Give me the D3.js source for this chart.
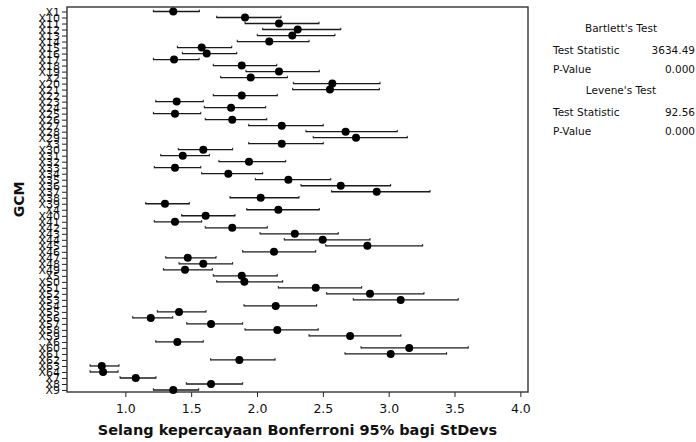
<!DOCTYPE html>
<html>
<head>
<meta charset="utf-8">
<script src="https://cdn.jsdelivr.net/npm/d3@7"></script>
<style>
  body { margin: 0; background: #fff; }
  svg { display: block; }
</style>
</head>
<body>
<div id="chart"></div>
<script>
const width = 696;
const height = 442;

// GCM categories, in the order they are listed on the axis (top to bottom)
const gcm = ["X1", "X10", "X11", "X12", "X13", "X14", "X15", "X16", "X17", "X18", "X19",
             "X2", "X20", "X21", "X22", "X23", "X24", "X25", "X26", "X27", "X28", "X29",
             "X3", "X30", "X31", "X32", "X33", "X34", "X35", "X36", "X37", "X38", "X39",
             "X4", "X40", "X41", "X42", "X43", "X44", "X45", "X46", "X47", "X48", "X49",
             "X5", "X50", "X51", "X52", "X53", "X54", "X55", "X56", "X57", "X58", "X59",
             "X6", "X60", "X61", "X62", "X63", "X64", "X7", "X8", "X9"];

// StDev estimate and Bonferroni 95% interval per GCM
const stdev = [1.364, 1.909, 2.167, 2.309, 2.268, 2.093, 1.580, 1.618, 1.370, 1.884, 2.167,
               1.952, 2.572, 2.554, 1.884, 1.390, 1.803, 1.377, 1.812, 2.188, 2.673, 2.752,
               2.188, 1.592, 1.436, 1.939, 1.377, 1.782, 2.238, 2.636, 2.909, 2.028, 1.301,
               2.162, 1.610, 1.377, 1.812, 2.287, 2.499, 2.838, 2.129, 1.474, 1.592, 1.453,
               1.884, 1.904, 2.446, 2.858, 3.091, 2.142, 1.408, 1.193, 1.651, 2.154, 2.707,
               1.395, 3.156, 3.015, 1.866, 0.821, 0.831, 1.079, 1.651, 1.364];
const lower = [1.213, 1.694, 1.909, 2.043, 2.002, 1.850, 1.395, 1.433, 1.213, 1.668, 1.916,
               1.724, 2.276, 2.271, 1.668, 1.231, 1.600, 1.213, 1.607, 1.937, 2.372, 2.427,
               1.937, 1.402, 1.269, 1.711, 1.220, 1.580, 1.987, 2.334, 2.567, 1.795, 1.155,
               1.922, 1.428, 1.220, 1.607, 2.023, 2.207, 2.522, 1.891, 1.307, 1.408, 1.289,
               1.668, 1.694, 2.162, 2.529, 2.731, 1.901, 1.243, 1.056, 1.466, 1.909, 2.395,
               1.231, 2.790, 2.668, 1.648, 0.732, 0.732, 0.960, 1.463, 1.213];
const upper = [1.562, 2.182, 2.471, 2.636, 2.592, 2.395, 1.808, 1.846, 1.560, 2.150, 2.473,
               2.230, 2.934, 2.929, 2.154, 1.592, 2.066, 1.573, 2.074, 2.503, 3.065, 3.141,
               2.503, 1.815, 1.638, 2.218, 1.573, 2.043, 2.560, 3.015, 3.314, 2.319, 1.486,
               2.473, 1.833, 1.580, 2.078, 2.617, 2.858, 3.258, 2.446, 1.689, 1.815, 1.661,
               2.154, 2.195, 2.795, 3.268, 3.528, 2.453, 1.613, 1.360, 1.891, 2.465, 3.093,
               1.592, 3.604, 3.440, 2.137, 0.952, 0.945, 1.233, 1.891, 1.557];

const xTicks = [1.0, 1.5, 2.0, 2.5, 3.0, 3.5, 4.0];

// Test results shown on the right
const bartlett = [["Test Statistic", "3634.49"], ["P-Value", "0.000"]];
const levene = [["Test Statistic", "92.56"], ["P-Value", "0.000"]];

const frame = { left: 67, right: 528, top: 7, bottom: 392 };

const data = gcm.map((g, i) => ({ gcm: g, sd: stdev[i], lo: lower[i], hi: upper[i] }));

const svg = d3.select("#chart").append("svg")
    .attr("width", width)
    .attr("height", height)
    .style("font-family", "'DejaVu Sans', sans-serif");

svg.append("rect")
    .attr("width", width)
    .attr("height", height)
    .attr("fill", "#fff");

const x = d3.scaleLinear()
    .domain([0.557, 4.058])
    .range([frame.left, frame.right]);

const y = d3.scalePoint()
    .domain(gcm)
    .range([11.5, 390]);

// X axis
const xAxis = svg.append("g")
    .attr("transform", `translate(0, ${frame.bottom})`)
    .call(d3.axisBottom(x).tickValues(xTicks).tickFormat(d3.format(".1f")).tickSize(5).tickSizeOuter(0));
xAxis.select(".domain").remove();
xAxis.selectAll("line").attr("stroke", "#222");
xAxis.selectAll("text")
    .attr("font-size", "12.5px")
    .attr("font-family", "'DejaVu Sans', sans-serif")
    .attr("fill", "#111")
    .attr("dy", "1.05em");

// Y axis
const yAxis = svg.append("g")
    .attr("transform", `translate(${frame.left}, 0)`)
    .call(d3.axisLeft(y).tickSize(5).tickSizeOuter(0));
yAxis.select(".domain").remove();
yAxis.selectAll("line").attr("stroke", "#222");
yAxis.selectAll("text")
    .attr("font-size", "11px")
    .attr("font-family", "'DejaVu Sans', sans-serif")
    .attr("fill", "#111")
    .attr("x", -7);

// Plot frame
svg.append("rect")
    .attr("x", frame.left)
    .attr("y", frame.top)
    .attr("width", frame.right - frame.left)
    .attr("height", frame.bottom - frame.top)
    .attr("fill", "none")
    .attr("stroke", "#333")
    .attr("stroke-width", 1.4);

// Interval lines
const rows = svg.append("g").selectAll("g")
    .data(data)
    .enter().append("g");

rows.append("line")
    .attr("x1", d => x(d.lo))
    .attr("x2", d => x(d.hi))
    .attr("y1", d => y(d.gcm))
    .attr("y2", d => y(d.gcm))
    .attr("stroke", "#1a1a1a")
    .attr("stroke-width", 1.3);

// small end caps
rows.selectAll(".cap")
    .data(d => [d.lo, d.hi].map(v => ({ v, g: d.gcm })))
    .enter().append("line")
    .attr("class", "cap")
    .attr("x1", d => x(d.v))
    .attr("x2", d => x(d.v))
    .attr("y1", d => y(d.g) - 1.8)
    .attr("y2", d => y(d.g) + 0.6)
    .attr("stroke", "#1a1a1a")
    .attr("stroke-width", 1);

rows.append("circle")
    .attr("cx", d => x(d.sd))
    .attr("cy", d => y(d.gcm))
    .attr("r", 4)
    .attr("fill", "#000");

// Axis titles
svg.append("text")
    .attr("x", (frame.left + frame.right) / 2)
    .attr("y", 435)
    .attr("text-anchor", "middle")
    .attr("font-size", "14.5px")
    .attr("font-weight", "bold")
    .attr("fill", "#111")
    .text("Selang kepercayaan Bonferroni 95% bagi StDevs");

svg.append("text")
    .attr("transform", `translate(24, ${(frame.top + frame.bottom) / 2}) rotate(-90)`)
    .attr("text-anchor", "middle")
    .attr("font-size", "14px")
    .attr("font-weight", "bold")
    .attr("fill", "#111")
    .text("GCM");

// Test results panel
const panel = svg.append("g")
    .attr("font-size", "10.5px")
    .attr("fill", "#111");

function testBlock(title, rowsData, titleY) {
    panel.append("text")
        .attr("x", 621)
        .attr("y", titleY)
        .attr("text-anchor", "middle")
        .text(title);
    rowsData.forEach((r, i) => {
        const yy = titleY + 22 + i * 19;
        panel.append("text")
            .attr("x", 553)
            .attr("y", yy)
            .text(r[0]);
        panel.append("text")
            .attr("x", 695)
            .attr("y", yy)
            .attr("text-anchor", "end")
            .text(r[1]);
    });
}

testBlock("Bartlett's Test", bartlett, 32);
testBlock("Levene's Test", levene, 94);
</script>
</body>
</html>
